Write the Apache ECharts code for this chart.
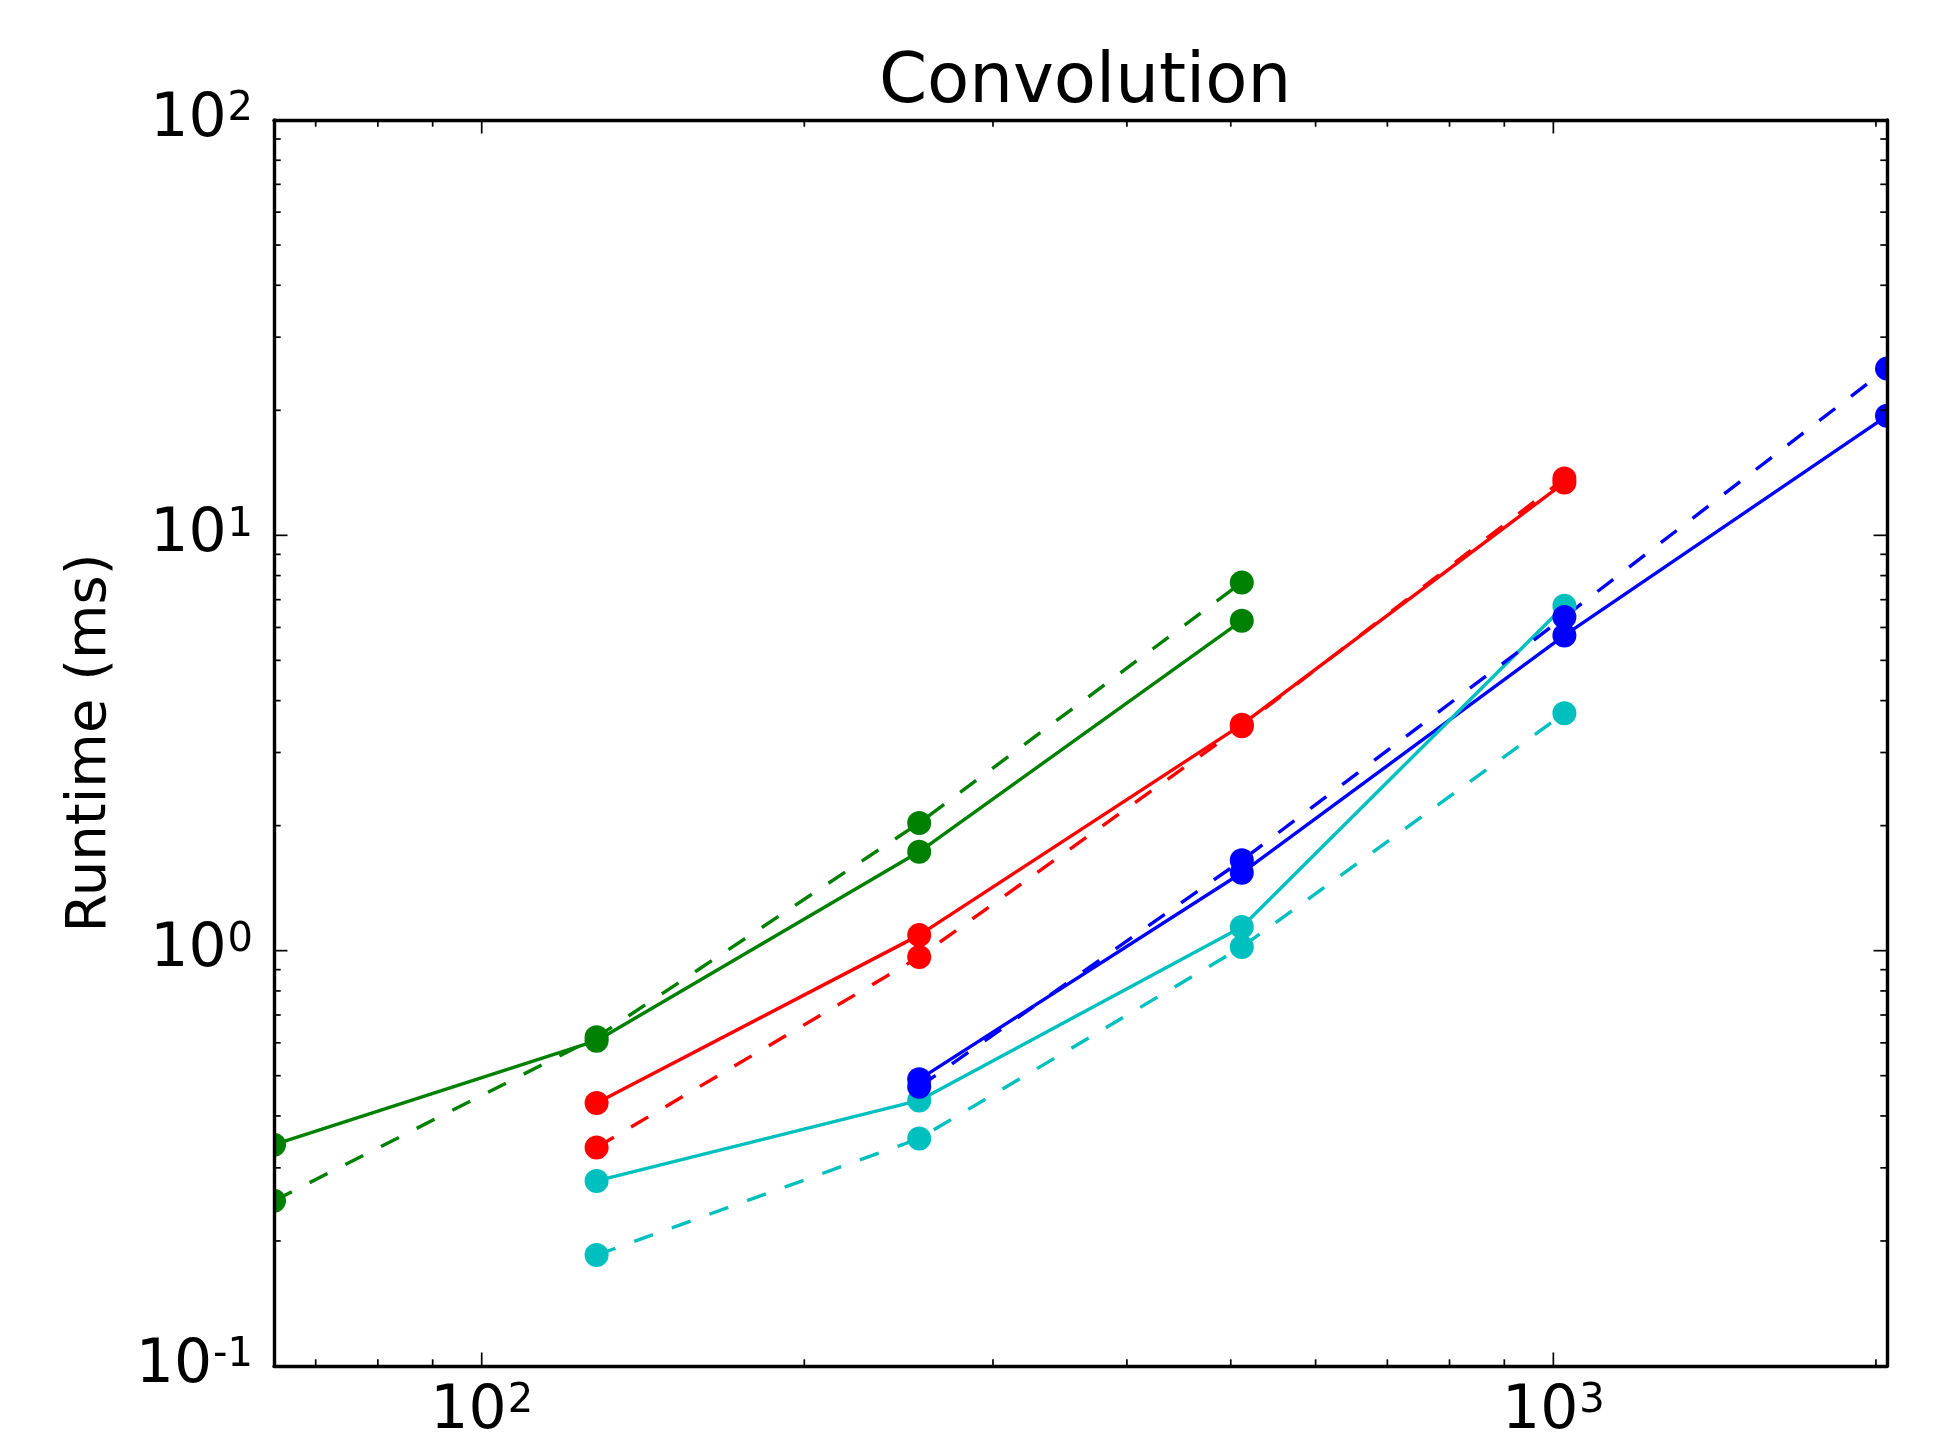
<!DOCTYPE html>
<html>
<head>
<meta charset="utf-8">
<script src="https://cdn.jsdelivr.net/npm/echarts@6/dist/echarts.min.js"></script>
<style>
html,body{margin:0;padding:0;background:#fff;}
#chart{width:1938px;height:1449px;}
</style>
</head>
<body>
<div id="chart"></div>
<script>
// ---- data ----
const sizes = [64, 128, 256, 512, 1024, 2048];
const blueSolid   = [null, null, 0.49, 1.54, 5.74, 19.4];
const greenSolid  = [0.341, 0.607, 1.73, 6.23, null, null];
const redSolid    = [null, 0.43, 1.09, 3.5, 13.4, null];
const cyanSolid   = [null, 0.279, 0.436, 1.14, 6.77, null];
const blueDashed  = [null, null, 0.47, 1.65, 6.36, 25.2];
const greenDashed = [0.25, 0.619, 2.03, 7.7, null, null];
const redDashed   = [null, 0.336, 0.966, 3.47, 13.7, null];
const cyanDashed  = [null, 0.185, 0.353, 1.02, 3.73, null];

const titleText = 'Convolution';
const yName = 'Runtime (ms)';

const xTickValues = [100, 1000];
const xTickExps = ['2', '3'];
const yTickValues = [0.1, 1, 10, 100];
const yTickExps = ['-1', '0', '1', '2'];
const xMinorTicks = [70, 80, 90, 200, 300, 400, 500, 600, 700, 800, 900, 2000];
const yMinorTicks = [0.2, 0.3, 0.4, 0.5, 0.6, 0.7, 0.8, 0.9, 2, 3, 4, 5, 6, 7, 8, 9, 20, 30, 40, 50, 60, 70, 80, 90];

const X_MIN = 64, X_MAX = 2048, Y_MIN = 0.1, Y_MAX = 100;

// ---- styling ----
const FONT = 'DejaVu Sans';
const GRID = {left: 274, top: 120, width: 1613, height: 1246};
const MAJOR_LEN = 13.5, MINOR_LEN = 6.7;
const LW = 3.4;
const DASH = [20, 20];
const colors = {b: '#0000ff', g: '#008000', r: '#ff0000', c: '#00bfbf'};

function pairs(vals) {
  const out = [];
  vals.forEach((v, i) => { if (v !== null) out.push([sizes[i], v]); });
  return out;
}

function lineSeries(name, vals, color, dashed) {
  return {
    name: name,
    type: 'line',
    data: pairs(vals),
    symbol: 'circle',
    symbolSize: 24,
    showSymbol: true,
    showAllSymbol: true,
    clip: true,
    lineStyle: {color: color, width: LW, type: dashed ? DASH : 'solid', cap: 'butt'},
    itemStyle: {color: color, borderWidth: 0},
    emphasis: {disabled: true},
    animation: false,
    z: 2
  };
}

function labelFmt(values, exps) {
  return function (val) {
    for (let i = 0; i < values.length; i++) {
      if (Math.abs(val - values[i]) / values[i] < 1e-6) {
        return '{b|10}{s|' + exps[i] + '}';
      }
    }
    return '';
  };
}

const richLabel = {
  b: {fontFamily: FONT, fontSize: 60, lineHeight: 60, color: '#000'},
  s: {fontFamily: FONT, fontSize: 40, lineHeight: 20, color: '#000', verticalAlign: 'top', padding: [0, 0, 0, 1]}
};

// tick data for custom series
const tickData = [];
xTickValues.forEach(v => tickData.push([v, Y_MIN, 0, MAJOR_LEN]));
xMinorTicks.forEach(v => tickData.push([v, Y_MIN, 0, MINOR_LEN]));
yTickValues.forEach(v => tickData.push([X_MIN, v, 1, MAJOR_LEN]));
yMinorTicks.forEach(v => tickData.push([X_MIN, v, 1, MINOR_LEN]));

const axisLineStyle = {show: true, lineStyle: {color: '#000', width: LW}};

const chart = echarts.init(document.getElementById('chart'), null, {renderer: 'canvas'});

const option = {
  backgroundColor: '#fff',
  animation: false,
  title: {
    text: titleText,
    left: 1080,
    top: 45,
    textAlign: 'center',
    textStyle: {fontFamily: FONT, fontSize: 69, fontWeight: 'normal', color: '#000'}
  },
  grid: Object.assign({containLabel: false}, GRID),
  xAxis: [{
    type: 'log', logBase: 10, min: X_MIN, max: X_MAX, position: 'bottom',
    axisLine: axisLineStyle, axisTick: {show: false}, splitLine: {show: false},
    axisLabel: {show: true, interval: 0, margin: 16, formatter: labelFmt(xTickValues, xTickExps), rich: richLabel,
      showMinLabel: true, showMaxLabel: true},
    z: 10
  }, {
    type: 'log', logBase: 10, min: X_MIN, max: X_MAX, position: 'top',
    axisLine: axisLineStyle, axisTick: {show: false}, splitLine: {show: false},
    axisLabel: {show: false}, z: 10
  }],
  yAxis: [{
    type: 'log', logBase: 10, min: Y_MIN, max: Y_MAX, position: 'left',
    axisLine: axisLineStyle, axisTick: {show: false}, splitLine: {show: false},
    axisLabel: {show: true, interval: 0, margin: 21, formatter: labelFmt(yTickValues, yTickExps), rich: richLabel,
      showMinLabel: true, showMaxLabel: true},
    name: yName, nameLocation: 'middle', nameGap: 184, nameRotate: 90,
    nameTextStyle: {fontFamily: FONT, fontSize: 56, color: '#000', verticalAlign: 'middle', align: 'center'},
    z: 10
  }, {
    type: 'log', logBase: 10, min: Y_MIN, max: Y_MAX, position: 'right',
    axisLine: axisLineStyle, axisTick: {show: false}, splitLine: {show: false},
    axisLabel: {show: false}, z: 10
  }],
  graphic: [
    {type: 'rect', shape: {x: GRID.left - 16, y: GRID.top - 20, width: 16, height: GRID.height + 40}, style: {fill: '#fff'}, z: 5, silent: true},
    {type: 'rect', shape: {x: GRID.left + GRID.width, y: GRID.top - 20, width: 20, height: GRID.height + 40}, style: {fill: '#fff'}, z: 5, silent: true}
  ],
  series: [
    lineSeries('b-solid', blueSolid, colors.b, false),
    lineSeries('g-solid', greenSolid, colors.g, false),
    lineSeries('r-solid', redSolid, colors.r, false),
    lineSeries('c-solid', cyanSolid, colors.c, false),
    lineSeries('b-dashed', blueDashed, colors.b, true),
    lineSeries('g-dashed', greenDashed, colors.g, true),
    lineSeries('r-dashed', redDashed, colors.r, true),
    lineSeries('c-dashed', cyanDashed, colors.c, true),
    {
      type: 'custom',
      name: 'ticks',
      data: tickData,
      clip: false,
      silent: true,
      z: 6,
      animation: false,
      renderItem: function (params, api) {
        const v0 = api.value(0), v1 = api.value(1), kind = api.value(2), len = api.value(3);
        const p = api.coord([v0, v1]);
        const st = {stroke: '#000', lineWidth: 1.7};
        if (kind === 0) {
          const q = api.coord([v0, Y_MAX]);
          return {type: 'group', children: [
            {type: 'line', shape: {x1: p[0], y1: p[1], x2: p[0], y2: p[1] - len}, style: st},
            {type: 'line', shape: {x1: q[0], y1: q[1], x2: q[0], y2: q[1] + len}, style: st}
          ]};
        } else {
          const q = api.coord([X_MAX, v1]);
          return {type: 'group', children: [
            {type: 'line', shape: {x1: p[0], y1: p[1], x2: p[0] + len, y2: p[1]}, style: st},
            {type: 'line', shape: {x1: q[0], y1: q[1], x2: q[0] - len, y2: q[1]}, style: st}
          ]};
        }
      }
    }
  ]
};

chart.setOption(option);
</script>
</body>
</html>
